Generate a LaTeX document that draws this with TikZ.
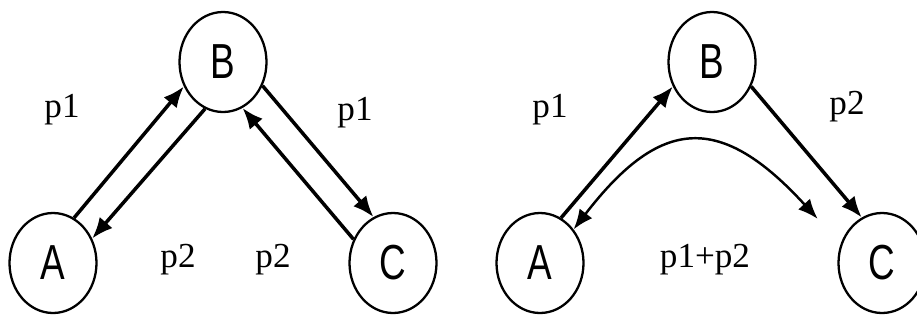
\documentclass[tikz,border=0pt]{standalone}
\usepackage{fontspec}
\setmainfont{Liberation Serif}
\newfontfamily\statefont[FakeStretch=0.75]{Liberation Sans}
\usetikzlibrary{shapes.geometric, arrows.meta, positioning, calc}

\begin{document}
\begin{tikzpicture}[
    state/.style={draw, ellipse, line width=1.3pt, minimum width=1.74cm, minimum height=2cm, inner sep=0pt, font=\statefont\fontsize{28}{28}\selectfont},
    plabel/.style={font=\fontsize{20}{20}\selectfont},
    arrow/.style={-{Latex[length=4.2mm, width=3.4mm]}, line width=2pt},
    twoway/.style={{Latex[length=4mm, width=3.2mm]}-{Latex[length=4mm, width=3.2mm]}, line width=1.4pt}
]
\useasboundingbox (0,0) rectangle (18.34,6.4);

% Left: separate paths
\node[state] (aL) at (1.06,1.14) {A};
\node[state] (bL) at (4.46,5.16) {B};
\node[state] (cL) at (7.86,1.14) {C};

\node[plabel] (p1aL) at (1.24,4.2) {p1};
\node[plabel] (p1cL) at (7.1,4.14) {p1};
\node[plabel] (p2aL) at (3.56,1.2) {p2};
\node[plabel] (p2cL) at (5.46,1.2) {p2};

\draw[arrow] (aL.65) -- (bL.212);
\draw[arrow] (bL.249) -- (aL.32);
\draw[arrow] (bL.329) -- (cL.113);
\draw[arrow] (cL.149) -- (bL.293);

% Right: merged path
\node[state] (aR) at (10.8,1.14) {A};
\node[state] (bR) at (14.24,5.16) {B};
\node[state] (cR) at (17.64,1.14) {C};

\node[plabel] (p1R) at (11.0,4.2) {p1};
\node[plabel] (p2R) at (16.94,4.26) {p2};
\node[plabel] (sumR) at (14.1,1.2) {p1+p2};

\coordinate (gapR) at ([shift={(-0.54cm,0.32cm)}]cR.143);

\draw[arrow] (aR.65) -- (bR.212);
\draw[arrow] (bR.328) -- (cR.114);
\draw[twoway] (aR.45) to[bend left=50, looseness=1.5] (gapR);

\end{tikzpicture}
\end{document}
